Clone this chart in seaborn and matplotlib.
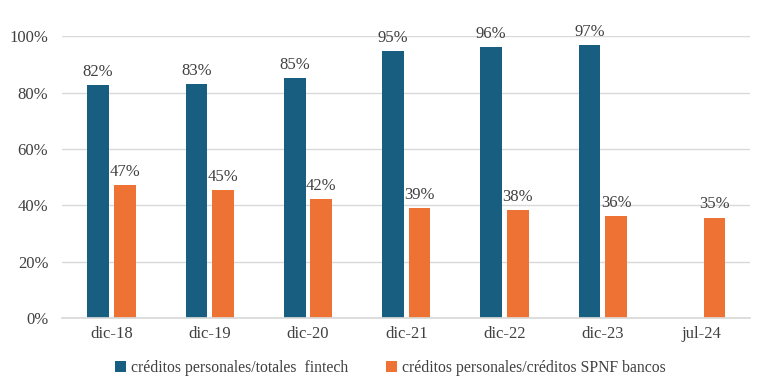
import numpy as np
import pandas as pd
import seaborn as sns
import matplotlib.pyplot as plt
from matplotlib.ticker import PercentFormatter

# data
periodos = ["dic-18", "dic-19", "dic-20", "dic-21", "dic-22", "dic-23", "jul-24"]
fintech = [0.826, 0.83, 0.851, 0.947, 0.961, 0.968, np.nan]
bancos = [0.472, 0.454, 0.422, 0.39, 0.383, 0.362, 0.355]
etiq_fintech = ["82%", "83%", "85%", "95%", "96%", "97%", ""]
etiq_bancos = ["47%", "45%", "42%", "39%", "38%", "36%", "35%"]
serie_fintech = "créditos personales/totales  fintech"
serie_bancos = "créditos personales/créditos SPNF bancos"

df = pd.DataFrame({
    "periodo": periodos * 2,
    "valor": fintech + bancos,
    "serie": [serie_fintech] * len(periodos) + [serie_bancos] * len(periodos),
})

sns.set_theme(style="white")
plt.rcParams["font.family"] = ["Liberation Serif", "DejaVu Serif"]

fig, ax = plt.subplots(figsize=(7.68, 3.81), dpi=100)
sns.barplot(data=df, x="periodo", y="valor", hue="serie",
            palette=["#175E80", "#ED7233"], width=0.54, gap=0.18,
            saturation=1, linewidth=0, ax=ax)

# value labels above bars (skip the missing bar)
for cont, etiq in zip(ax.containers, [etiq_fintech, etiq_bancos]):
    for bar, txt in zip(cont, etiq):
        if bar is None or not txt:
            continue
        h = bar.get_height()
        ax.annotate(txt, (bar.get_x() + bar.get_width() / 2, h),
                    xytext=(0, 4), textcoords="offset points",
                    ha="center", va="bottom", fontsize=12, color="#404040")

ax.set_ylim(0, 1.0)
ax.set_yticks(np.arange(0, 1.01, 0.2))
ax.yaxis.set_major_formatter(PercentFormatter(1.0, decimals=0))
ax.grid(axis="y", color="#D9D9D9", linewidth=1)
ax.set_axisbelow(True)
ax.set_xlabel("")
ax.set_ylabel("")
ax.tick_params(axis="both", length=0, labelsize=12, colors="#404040")
ax.tick_params(axis="x", pad=6)
ax.tick_params(axis="y", pad=10)
for s in ["top", "right", "left"]:
    ax.spines[s].set_visible(False)
ax.spines["bottom"].set_color("#D9D9D9")

ax.legend(loc="upper center", bbox_to_anchor=(0.477, -0.1), ncol=2, frameon=False,
          fontsize=11.3, handlelength=0.7, handleheight=0.7, handletextpad=0.3,
          columnspacing=2.4, labelcolor="#404040")

plt.subplots_adjust(left=0.081, right=0.977, top=0.905, bottom=0.165)
fig.savefig("out.png", dpi=100)
